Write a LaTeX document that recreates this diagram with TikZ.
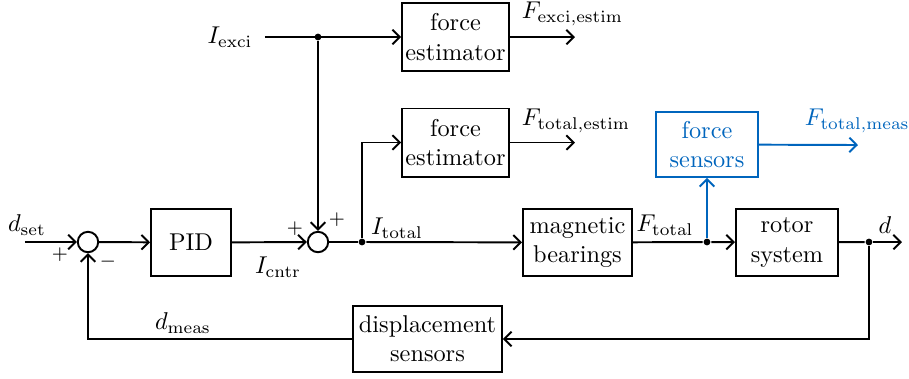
\documentclass[tikz,border=0pt]{standalone}
\usetikzlibrary{arrows.meta}
\definecolor{tumblue}{RGB}{0,101,189}
\begin{document}
\begin{tikzpicture}[x=0.4115pt,y=-0.4115pt,thick,
  >={Straight Barb[length=3pt,width=6pt]},
  block/.style={draw,align=center,inner sep=1pt},
  sumnode/.style={draw,circle,minimum size=8.4pt,inner sep=0pt},
  junct/.style={fill,circle,inner sep=0pt,minimum size=2.8pt},
  sign/.style={inner sep=0pt,font=\footnotesize},
  sig/.style={inner sep=0pt}]
\useasboundingbox (0,0) rectangle (909,378);

% blocks and summing points
\node[sumnode] (s1) at (88,242) {};
\node[block,minimum width=32.9pt,minimum height=27.6pt] (pid) at (191,242.5) {PID};
\node[sumnode] (s2) at (318,242) {};
\node[junct] (jt) at (362,242) {};
\node[block,minimum width=44pt,minimum height=28pt] (fe1) at (455.5,37) {force\\estimator};
\node[block,minimum width=44pt,minimum height=28pt] (fe2) at (455.5,142.5) {force\\estimator};
\node[junct] (je) at (318,37) {};
\node[block,minimum width=44.9pt,minimum height=27.6pt] (mb) at (577.5,242.5) {magnetic\\bearings};
\node[junct] (jf) at (707,242) {};
\node[block,draw=tumblue,text=tumblue,minimum width=42pt,minimum height=26.7pt] (fs) at (707,144.5) {force\\sensors};
\node[block,minimum width=42pt,minimum height=27.6pt] (rs) at (787,242.5) {rotor\\system};
\node[junct] (jd) at (869,242) {};
\node[block,minimum width=61.3pt,minimum height=27.2pt] (ds) at (427.5,339) {displacement\\sensors};

% free ends
\coordinate (din) at (25,242);
\coordinate (iexci) at (265,37);
\coordinate (o1) at (575,37);
\coordinate (o2) at (575,142.5);
\coordinate (o3) at (858,145);
\coordinate (dout) at (902,242);

% connections
\draw[->] (din) -- (s1);
\draw[->] (s1) -- (pid);
\draw[->] (pid) -- (s2);
\draw (s2) -- (jt);
\draw[->] (jt) -- (mb);
\draw[->] (jt) |- (fe2);
\draw[->] (iexci) -- (fe1);
\draw[->] (je) -- (s2);
\draw[->] (fe1) -- (o1);
\draw[->] (fe2) -- (o2);
\draw (mb) -- (jf);
\draw[->] (jf) -- (rs);
\draw[->,tumblue] (jf) -- (fs);
\draw[->,tumblue] (fs) -- (o3);
\draw (rs) -- (jd);
\draw[->] (jd) -- (dout);
\draw[->] (jd) |- (ds);
\draw[->] (ds) -| (s1);

% signal names
\node[sig] (lset) at (27,225) {$d_{\mathrm{set}}$};
\node[sig] (lcntr) at (278,267) {$I_{\mathrm{cntr}}$};
\node[sig] (lexci) at (230,37) {$I_{\mathrm{exci}}$};
\node[sig] (ltot) at (397,228) {$I_{\mathrm{total}}$};
\node[sig] (lft) at (665,225) {$F_{\mathrm{total}}$};
\node[sig] (ld) at (885,225) {$d$};
\node[sig] (lmeas) at (183,323) {$d_{\mathrm{meas}}$};
\node[sig,anchor=west] (lfe) at (521,14) {$F_{\mathrm{exci,estim}}$};
\node[sig,anchor=west] (lfte) at (521,121) {$F_{\mathrm{total,estim}}$};
\node[sig,anchor=west,text=tumblue] (lftm) at (804,121) {$F_{\mathrm{total,meas}}$};

% signs at the summing points
\node[sign] (p1) at (60,255) {$+$};
\node[sign] (m1) at (108,262) {$-$};
\node[sign] (p2) at (295,229) {$+$};
\node[sign] (p3) at (337,220) {$+$};
\end{tikzpicture}
\end{document}
